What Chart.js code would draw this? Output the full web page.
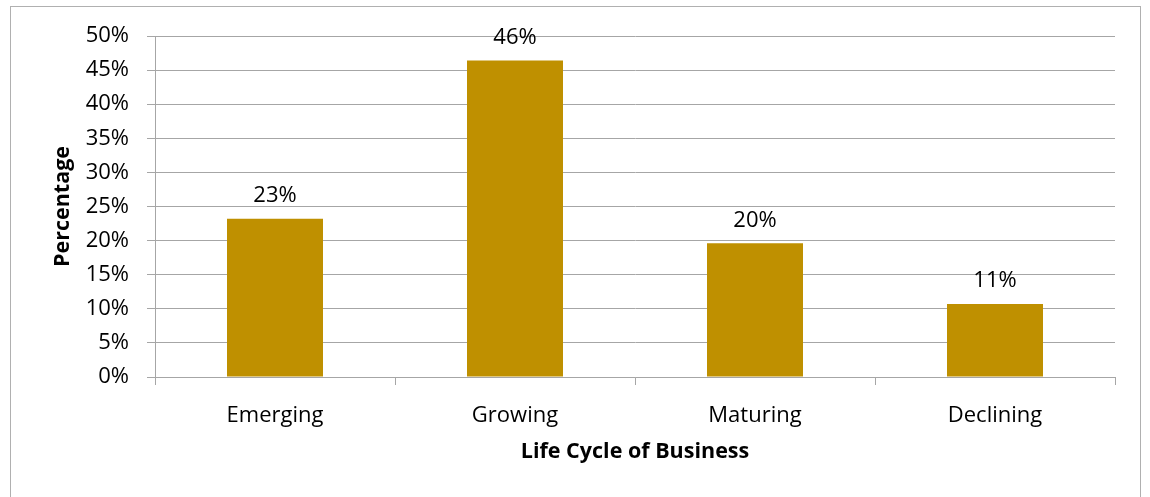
<!DOCTYPE html>
<html>
<head>
<meta charset="utf-8">
<script src="https://cdn.jsdelivr.net/npm/chart.js@4/dist/chart.umd.min.js"></script>
<style>
  html, body { margin: 0; padding: 0; background: #fff; }
  #wrap { width: 1150px; height: 497px; }
</style>
</head>
<body>
<div id="wrap"><canvas id="chart" width="1150" height="497"></canvas></div>
<script>
// values
var categories = ["Emerging", "Growing", "Maturing", "Declining"];
var percentages = [23.2, 46.4, 19.6, 10.7];
var valueLabels = ["23%", "46%", "20%", "11%"];
var yTicks = [0, 5, 10, 15, 20, 25, 30, 35, 40, 45, 50];

var FONT = "'Open Sans', 'Noto Sans', sans-serif";

// outer chart border (like the Excel chart frame)
var framePlugin = {
  id: "frame",
  beforeDraw: function(chart) {
    var ctx = chart.ctx;
    ctx.save();
    ctx.fillStyle = "#fff";
    ctx.fillRect(0, 0, chart.width, chart.height);
    ctx.strokeStyle = "#b0b0b0";
    ctx.lineWidth = 1;
    ctx.strokeRect(10.5, 6.5, 1130, 600);
    ctx.restore();
  }
};

// value labels above the bars
var labelPlugin = {
  id: "valueLabels",
  afterDatasetsDraw: function(chart) {
    var ctx = chart.ctx;
    var meta = chart.getDatasetMeta(0);
    ctx.save();
    ctx.font = "22px " + FONT;
    ctx.fillStyle = "#000";
    ctx.textAlign = "center";
    ctx.textBaseline = "bottom";
    meta.data.forEach(function(bar, i) {
      ctx.fillText(valueLabels[i], bar.x, bar.y - 12);
    });
    ctx.restore();
  }
};

new Chart(document.getElementById("chart"), {
  type: "bar",
  data: {
    labels: categories,
    datasets: [{
      data: percentages,
      backgroundColor: "#BF9000",
      borderWidth: 0,
      categoryPercentage: 0.4,
      barPercentage: 1.0
    }]
  },
  options: {
    responsive: false,
    animation: false,
    layout: { padding: { left: 0, top: 36, right: 35, bottom: 0 } },
    plugins: {
      legend: { display: false },
      tooltip: { enabled: false }
    },
    scales: {
      x: {
        afterFit: function(scale) { scale.height = 120; },
        grid: {
          offset: true,
          drawOnChartArea: false,
          tickLength: 8,
          color: "#a6a6a6"
        },
        border: { color: "#a6a6a6" },
        ticks: {
          color: "#000",
          font: { family: FONT, size: 22 },
          padding: 18
        },
        title: {
          display: true,
          text: "Life Cycle of Business",
          color: "#000",
          font: { family: FONT, size: 21.5, weight: "bold" },
          padding: { top: 0, bottom: 32 }
        }
      },
      y: {
        min: 0,
        max: 50,
        afterFit: function(scale) { scale.width = 155; },
        afterBuildTicks: function(scale) {
          scale.ticks = yTicks.map(function(v) { return { value: v }; });
        },
        grid: {
          color: "#a6a6a6",
          tickLength: 8
        },
        border: { color: "#a6a6a6" },
        ticks: {
          color: "#000",
          font: { family: FONT, size: 22 },
          padding: 18,
          callback: function(v) { return v + "%"; }
        },
        title: {
          display: true,
          text: "Percentage",
          color: "#000",
          font: { family: FONT, size: 21.5, weight: "bold" },
          padding: { top: 50, bottom: 0 }
        }
      }
    }
  },
  plugins: [framePlugin, labelPlugin]
});
</script>
</body>
</html>
